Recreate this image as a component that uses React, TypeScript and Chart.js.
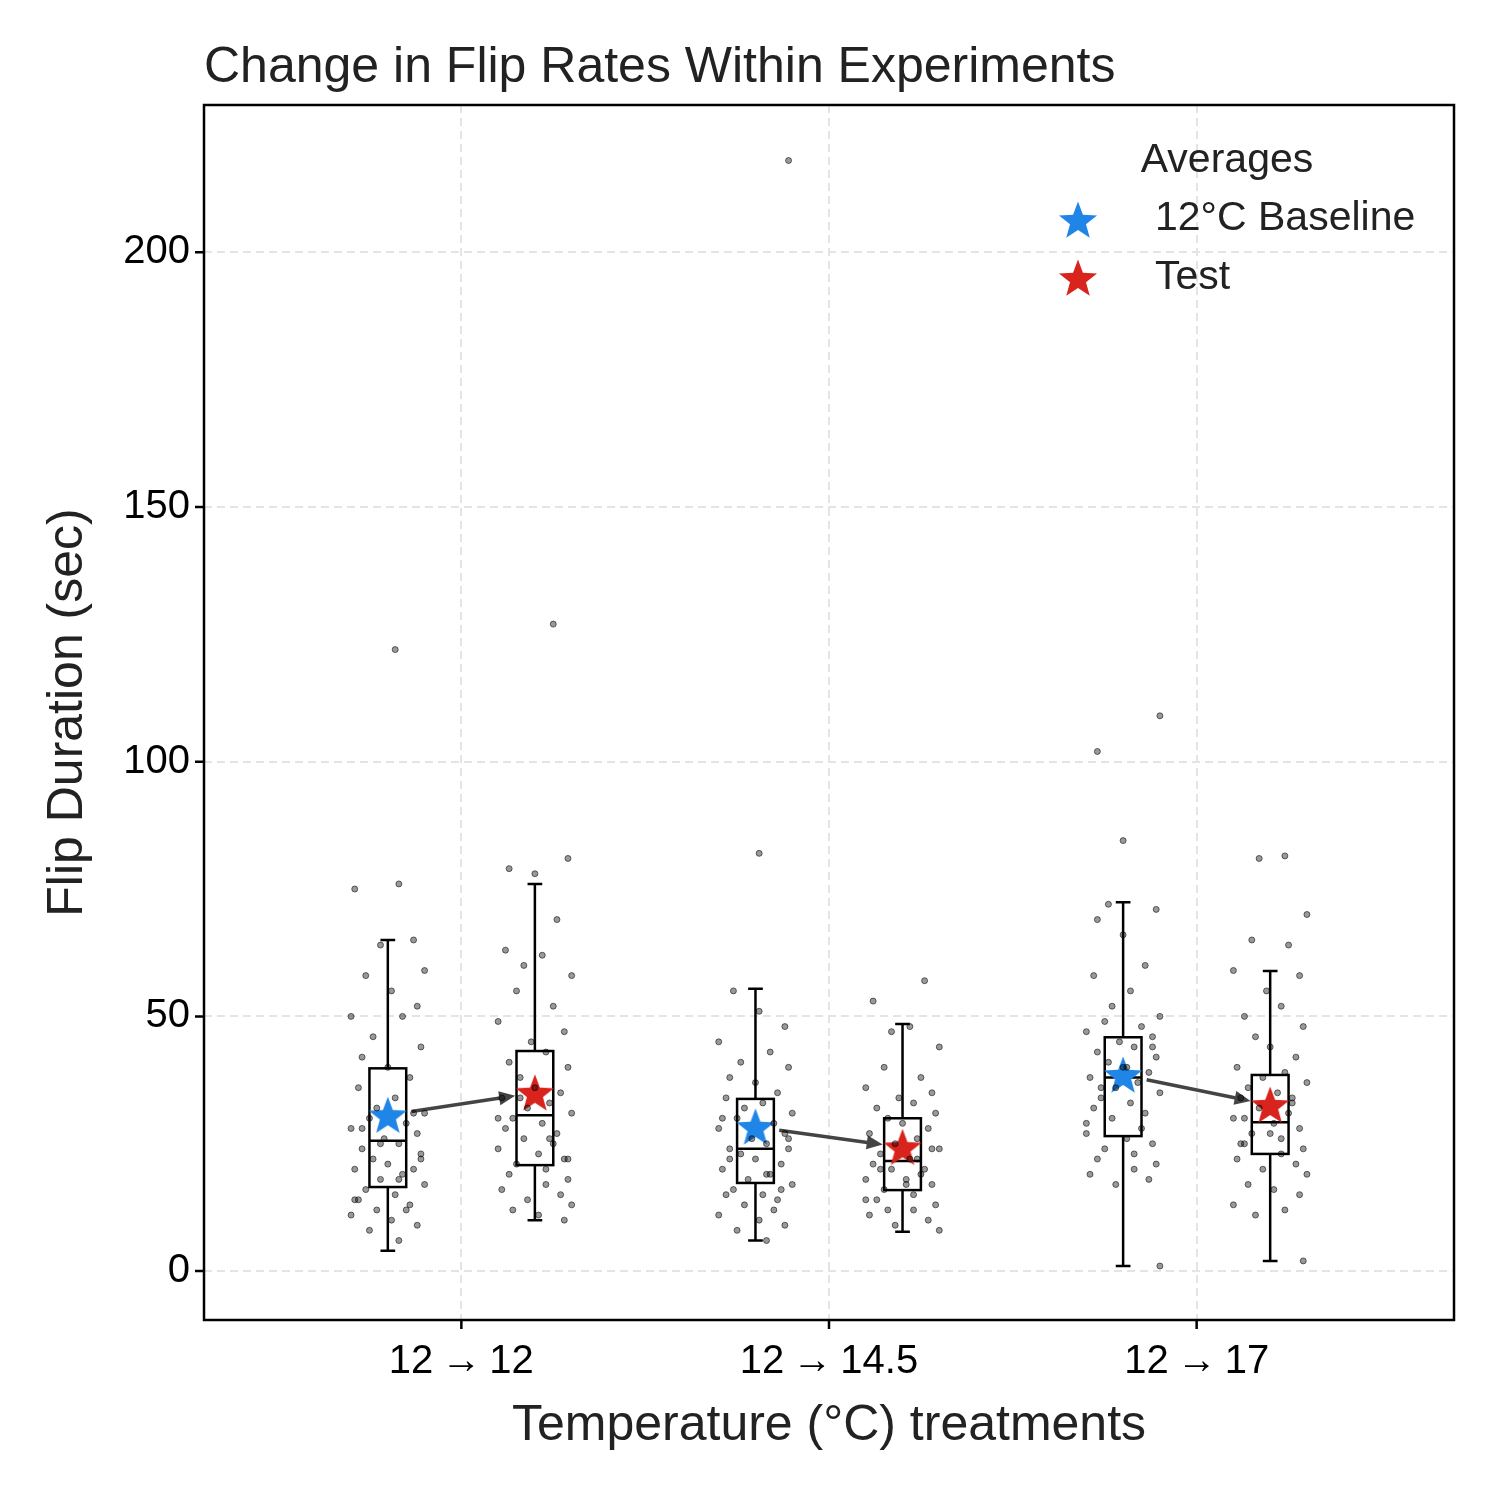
import React, { useEffect, useRef } from "react";
import { Chart, registerables } from "chart.js";

Chart.register(...registerables);

const categories = ["12\u2009\u2192\u200912", "12\u2009\u2192\u200914.5", "12\u2009\u2192\u200917"];
const yTicks = [0, 50, 100, 150, 200];

// box stats: [whiskerLow, q1, median, q3, whiskerHigh]
const baselineBoxes = [
  [4, 16.5, 25.6, 39.8, 65],
  [6, 17.3, 24, 33.8, 55.4],
  [1, 26.5, 38, 45.9, 72.4],
];
const testBoxes = [
  [10, 20.8, 30.6, 43.2, 76],
  [7.7, 15.9, 21.6, 30, 48.5],
  [2, 23, 29.2, 38.5, 58.9],
];
const baselineMeans = [30.6, 28.3, 38.5];
const testMeans = [35, 24.3, 32.6];

const baselineRaw = [
  [76, 75, 65, 64, 59, 58, 55, 52, 50, 50, 46, 44, 42, 40, 38, 36, 34, 32, 31, 30, 29, 28, 27, 26, 25, 24, 23, 22, 21, 20, 20, 19, 18, 17, 16, 15, 14, 13, 12, 12, 11, 10, 9, 8, 6, 28, 22, 18, 14, 31, 25],
  [55, 51, 48, 45, 43, 41, 40, 38, 37, 35, 34, 33, 32, 31, 30, 29, 28, 27, 26, 25, 24, 24, 23, 22, 21, 20, 19, 18, 17, 16, 15, 15, 14, 13, 12, 11, 10, 9, 8, 6, 22, 26, 19, 30, 16],
  [72, 71, 69, 66, 60, 58, 55, 52, 50, 49, 48, 47, 46, 45, 44, 43, 42, 41, 40, 39, 38, 37, 36, 35, 34, 33, 32, 31, 30, 28, 27, 26, 25, 24, 23, 22, 21, 20, 19, 18, 17, 1, 36, 40, 44, 29],
];
const testRaw = [
  [81, 79, 78, 69, 63, 62, 60, 58, 55, 52, 49, 47, 45, 43, 41, 40, 38, 36, 35, 34, 33, 32, 31, 30, 29, 28, 27, 26, 25, 24, 23, 22, 21, 20, 19, 18, 17, 16, 15, 14, 13, 12, 11, 10, 30, 26, 34, 22],
  [57, 53, 48, 47, 44, 40, 38, 36, 35, 34, 33, 32, 31, 30, 29, 28, 27, 26, 25, 24, 23, 22, 21, 20, 20, 19, 18, 18, 17, 16, 15, 14, 13, 12, 11, 10, 9, 8, 20, 17, 24, 14, 22, 12],
  [81, 70, 65, 64, 59, 58, 55, 52, 50, 48, 46, 44, 42, 40, 39, 38, 37, 36, 35, 34, 33, 32, 31, 30, 29, 28, 27, 26, 25, 24, 23, 22, 21, 20, 19, 17, 16, 15, 13, 12, 11, 2, 30, 27, 34, 25],
];
const jitter = [0.03, -0.09, 0.07, -0.02, 0.1, -0.06, 0.01, 0.08, -0.1, 0.04, -0.04, 0.09, -0.07, 0.0, 0.06, -0.08, 0.02, -0.03, 0.1, -0.05, 0.05, -0.1, 0.08, -0.01, 0.03, -0.07, 0.09, -0.04, 0.0, 0.07, -0.09, 0.04, -0.02, 0.1, -0.06, 0.02, -0.08, 0.06, -0.03, 0.05, -0.1, 0.01, 0.08, -0.05, 0.03, -0.07, 0.09];
// outliers: [x, y]
const outliers = [
  [-0.18, 122], [0.25, 127], [0.81, 82], [0.89, 218], [1.73, 102], [1.9, 109], [1.8, 84.5], [2.24, 81.5],
];

const BLUE = "#1f86e8";
const RED = "#d9231d";
const FONT = "'Liberation Sans', Arial, sans-serif";

function makeStar(color: string, size: number) {
  const c = document.createElement("canvas");
  c.width = size;
  c.height = size;
  const ctx = c.getContext("2d")!;
  const cx = size / 2, cy = size / 2 + size * 0.04, R = size / 2, r = R * 0.42;
  ctx.beginPath();
  for (let i = 0; i < 10; i++) {
    const a = -Math.PI / 2 + (i * Math.PI) / 5;
    const rad = i % 2 === 0 ? R : r;
    ctx.lineTo(cx + rad * Math.cos(a), cy + rad * Math.sin(a));
  }
  ctx.closePath();
  ctx.fillStyle = color;
  ctx.fill();
  return c;
}

export default function App() {
  const ref = useRef<HTMLCanvasElement>(null);

  useEffect(() => {
    const blueStar = makeStar(BLUE, 40);
    const redStar = makeStar(RED, 40);

    const dots: { x: number; y: number }[] = [];
    baselineRaw.forEach((vals, g) =>
      vals.forEach((v, i) => dots.push({ x: g - 0.2 + jitter[(i + g * 5) % jitter.length], y: v }))
    );
    testRaw.forEach((vals, g) =>
      vals.forEach((v, i) => dots.push({ x: g + 0.2 + jitter[(i + g * 3 + 11) % jitter.length], y: v }))
    );
    outliers.forEach(([x, y]) => dots.push({ x, y }));

    const drawBox = (ctx: any, xs: any, ys: any, xc: number, b: number[]) => {
      const x0 = xs.getPixelForValue(xc - 0.05), x1 = xs.getPixelForValue(xc + 0.05);
      const c0 = xs.getPixelForValue(xc - 0.02), c1 = xs.getPixelForValue(xc + 0.02);
      const xm = xs.getPixelForValue(xc);
      const [lo, q1, med, q3, hi] = b.map((v) => ys.getPixelForValue(v));
      ctx.beginPath();
      ctx.moveTo(xm, lo); ctx.lineTo(xm, q1);
      ctx.moveTo(xm, q3); ctx.lineTo(xm, hi);
      ctx.moveTo(c0, lo); ctx.lineTo(c1, lo);
      ctx.moveTo(c0, hi); ctx.lineTo(c1, hi);
      ctx.moveTo(x0, med); ctx.lineTo(x1, med);
      ctx.stroke();
      ctx.strokeRect(x0, q3, x1 - x0, q1 - q3);
    };

    const plugin = {
      id: "extras",
      beforeDatasetsDraw(chart: any) {
        const { ctx, scales } = chart;
        const xs = scales.x, ys = scales.y;
        ctx.save();
        ctx.strokeStyle = "#000";
        ctx.lineWidth = 2.5;
        categories.forEach((_, g) => {
          drawBox(ctx, xs, ys, g - 0.2, baselineBoxes[g]);
          drawBox(ctx, xs, ys, g + 0.2, testBoxes[g]);
        });
        // arrows
        ctx.strokeStyle = "#444";
        ctx.fillStyle = "#444";
        ctx.lineWidth = 3.5;
        categories.forEach((_, g) => {
          const ax = xs.getPixelForValue(g - 0.2), ay = ys.getPixelForValue(baselineMeans[g]);
          const bx = xs.getPixelForValue(g + 0.2), by = ys.getPixelForValue(testMeans[g]);
          const ang = Math.atan2(by - ay, bx - ax);
          const sx = ax + 24 * Math.cos(ang), sy = ay + 24 * Math.sin(ang);
          const ex = bx - 20 * Math.cos(ang), ey = by - 20 * Math.sin(ang);
          ctx.beginPath();
          ctx.moveTo(sx, sy);
          ctx.lineTo(ex - 10 * Math.cos(ang), ey - 10 * Math.sin(ang));
          ctx.stroke();
          ctx.beginPath();
          ctx.moveTo(ex, ey);
          ctx.lineTo(ex - 16 * Math.cos(ang) + 7 * Math.sin(ang), ey - 16 * Math.sin(ang) - 7 * Math.cos(ang));
          ctx.lineTo(ex - 16 * Math.cos(ang) - 7 * Math.sin(ang), ey - 16 * Math.sin(ang) + 7 * Math.cos(ang));
          ctx.closePath();
          ctx.fill();
        });
        ctx.restore();
      },
      afterDraw(chart: any) {
        const { ctx, chartArea: a, scales } = chart;
        ctx.save();
        // frame
        ctx.strokeStyle = "#000";
        ctx.lineWidth = 2.5;
        ctx.strokeRect(a.left, a.top, a.right - a.left, a.bottom - a.top);
        // tick marks
        ctx.beginPath();
        yTicks.forEach((v) => {
          const y = scales.y.getPixelForValue(v);
          ctx.moveTo(a.left - 9, y); ctx.lineTo(a.left, y);
        });
        categories.forEach((_, g) => {
          const x = scales.x.getPixelForValue(g);
          ctx.moveTo(x, a.bottom); ctx.lineTo(x, a.bottom + 9);
        });
        ctx.stroke();
        // titles
        ctx.fillStyle = "#222";
        ctx.font = `50px ${FONT}`;
        ctx.textAlign = "left";
        ctx.textBaseline = "alphabetic";
        ctx.fillText("Change in Flip Rates Within Experiments", a.left, 82);
        ctx.font = `50px ${FONT}`;
        ctx.textAlign = "center";
        ctx.fillText("Temperature (\u00b0C) treatments", (a.left + a.right) / 2, 1440);
        ctx.save();
        ctx.translate(82, (a.top + a.bottom) / 2);
        ctx.rotate(-Math.PI / 2);
        ctx.fillText("Flip Duration (sec)", 0, 0);
        ctx.restore();
        // legend
        ctx.font = `41px ${FONT}`;
        ctx.fillStyle = "#222";
        ctx.textAlign = "center";
        ctx.textBaseline = "middle";
        ctx.fillText("Averages", a.right - 227, a.top + 56);
        ctx.drawImage(blueStar, a.right - 396, a.top + 95);
        ctx.drawImage(redStar, a.right - 396, a.top + 153);
        ctx.textAlign = "left";
        ctx.fillText("12\u00b0C Baseline", a.right - 299, a.top + 114);
        ctx.fillText("Test", a.right - 299, a.top + 173);
        ctx.restore();
      },
    };

    const chart = new Chart(ref.current!, {
      type: "scatter",
      data: {
        datasets: [
          {
            data: dots,
            pointRadius: 3,
            pointBorderWidth: 1,
            backgroundColor: "rgba(0,0,0,0.4)",
            borderColor: "rgba(0,0,0,0.55)",
          },
          {
            data: baselineMeans.map((v, g) => ({ x: g - 0.2, y: v })),
            pointStyle: blueStar as any,
          },
          {
            data: testMeans.map((v, g) => ({ x: g + 0.2, y: v })),
            pointStyle: redStar as any,
          },
        ],
      },
      options: {
        animation: false,
        responsive: false,
        devicePixelRatio: 1,
        layout: { padding: { left: 0, top: 105, right: 46, bottom: 0 } },
        plugins: { legend: { display: false }, tooltip: { enabled: false } },
        scales: {
          x: {
            type: "linear",
            min: -0.7,
            max: 2.7,
            afterBuildTicks: (s: any) => { s.ticks = categories.map((_, i) => ({ value: i })); },
            afterFit: (s: any) => { s.height = 180; },
            ticks: {
              callback: (v: any) => categories[v] ?? "",
              color: "#000",
              font: { family: FONT, size: 40 },
              padding: 18,
              maxRotation: 0,
            },
            grid: { color: "#e4e4e4", lineWidth: 2, drawTicks: false },
            border: { display: false, dash: [8, 5] },
          },
          y: {
            min: -9.6,
            max: 228.9,
            afterBuildTicks: (s: any) => { s.ticks = yTicks.map((v) => ({ value: v })); },
            afterFit: (s: any) => { s.width = 204; },
            ticks: { color: "#000", font: { family: FONT, size: 40 }, padding: 14 },
            grid: { color: "#e4e4e4", lineWidth: 2, drawTicks: false },
            border: { display: false, dash: [8, 5] },
          },
        },
      },
      plugins: [plugin],
    } as any);
    return () => chart.destroy();
  }, []);

  return (
    <div style={{ position: "fixed", left: 0, top: 0, width: 1500, height: 1500, background: "#fff" }}>
      <canvas ref={ref} width={1500} height={1500} />
    </div>
  );
}
